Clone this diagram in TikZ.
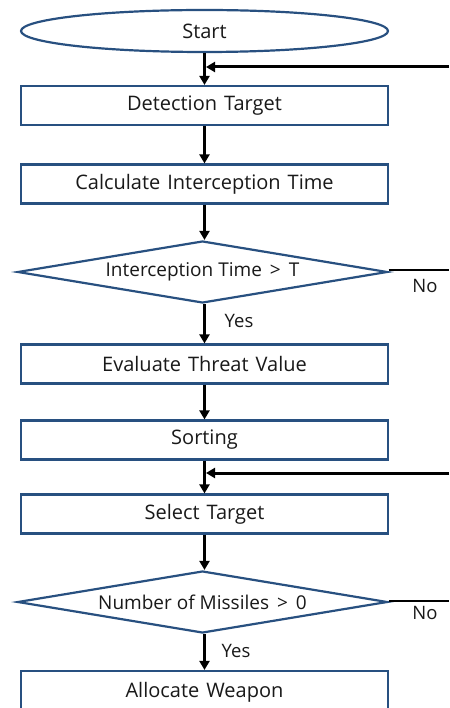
\documentclass[tikz,border=0pt]{standalone}
\usepackage{fontspec}
\setmainfont{Open Sans}
\usetikzlibrary{shapes.geometric,arrows.meta}
\definecolor{edgeblue}{RGB}{40,80,128}
\definecolor{txt}{RGB}{25,25,25}
\newcommand{\wsp}{\hspace{7pt}}
\newcommand{\gsp}{\hspace{8pt}}
\tikzset{
  x=1pt,y=1pt,
  box/.style={draw=edgeblue,line width=2.2pt,fill=white,text=txt,minimum width=367pt,minimum height=39pt,inner sep=0pt,font=\fontsize{20}{22}\selectfont},
  term/.style={draw=edgeblue,line width=2.2pt,fill=white,text=txt,ellipse,minimum width=367pt,minimum height=42pt,inner sep=0pt,font=\fontsize{20}{22}\selectfont},
  decide/.style={draw=edgeblue,line width=2.2pt,fill=white,text=txt,diamond,aspect=6,minimum width=370pt,minimum height=62pt,inner sep=0pt,font=\fontsize{19}{20}\selectfont},
  flow/.style={line width=3pt,-{Triangle[length=9pt,width=10pt]}},
  plain/.style={line width=2.8pt},
  lbl/.style={font=\fontsize{18.5}{20}\selectfont,text=txt,inner sep=0pt}
}
\begin{document}
\begin{tikzpicture}
\useasboundingbox (0,0) rectangle (449,-708);
\clip (0,0) rectangle (449,-708);
\node[term] (start) at (204.5,-31) {Start};
\node[box] (detect) at (204.5,-105.5) {Detection\wsp Target};
\node[box] (calc) at (204.5,-184) {Calculate\wsp Interception\wsp Time};
\node[decide] (d1) at (202.5,-272) {Interception Time\gsp>\gsp T};
\node[box] (eval) at (204.5,-364) {Evaluate\wsp Threat\wsp Value};
\node[box] (sort) at (204.5,-440) {Sorting};
\node[box] (select) at (204.5,-514) {Select\wsp Target};
\node[decide] (d2) at (202.5,-602) {Number of Missiles\gsp>\gsp 0};
\node[box,minimum height=42pt] (alloc) at (204.5,-692) {Allocate\wsp Weapon};

\coordinate (j1) at (206,-67);
\coordinate (r1) at (449,-67);
\coordinate (j2) at (206,-473);
\coordinate (r2) at (449,-473);
\coordinate (n1) at (449,-270);
\coordinate (n2) at (449,-601);

\draw[flow] (start.south -| detect.north) -- (detect.north);
\draw[flow] (r1) -- (j1);
\draw[flow] (detect.south) -- (calc.north);
\draw[flow] (calc.south) -- (d1.north -| calc.south);
\draw[flow] (d1.south -| eval.north) -- (eval.north);
\draw[flow] (eval.south) -- (sort.north);
\draw[flow] (sort.south) -- (select.north);
\draw[flow] (r2) -- (j2);
\draw[flow] (select.south) -- (d2.north -| select.south);
\draw[flow] (d2.south -| alloc.north) -- (alloc.north);

\draw[plain] (d1.east |- n1) -- (n1);
\draw[plain] (d2.east |- n2) -- (n2);

\node[lbl] (no1) at (425,-286) {No};
\node[lbl] (no2) at (425,-613) {No};
\node[lbl] (yes1) at (239,-321) {Yes};
\node[lbl] (yes2) at (236,-651) {Yes};
\end{tikzpicture}
\end{document}
